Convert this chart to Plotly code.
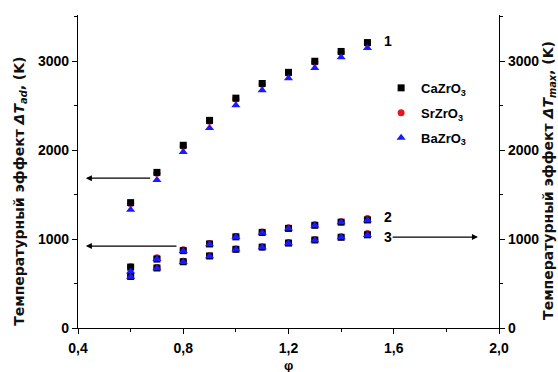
import plotly.graph_objects as go

phi = [0.6, 0.7, 0.8, 0.9, 1.0, 1.1, 1.2, 1.3, 1.4, 1.5]

# curve 1 (ΔT_ad)
ca_1 = [1410, 1750, 2055, 2335, 2585, 2750, 2875, 3000, 3110, 3210]
sr_1 = [1400, 1740, 2045, 2325, 2575, 2740, 2865, 2990, 3100, 3200]
ba_1 = [1330, 1665, 1980, 2250, 2505, 2675, 2810, 2925, 3045, 3150]
# curve 2
ca_2 = [685, 775, 870, 945, 1025, 1075, 1120, 1155, 1190, 1215]
sr_2 = [690, 790, 880, 950, 1030, 1080, 1128, 1160, 1195, 1232]
ba_2 = [635, 775, 865, 942, 1022, 1072, 1118, 1152, 1188, 1212]
# curve 3
ca_3 = [580, 675, 745, 810, 885, 910, 955, 990, 1020, 1048]
sr_3 = [585, 680, 750, 812, 888, 912, 962, 993, 1025, 1062]
ba_3 = [575, 672, 742, 808, 884, 908, 952, 988, 1020, 1046]

names = ["CaZrO<sub>3</sub>", "SrZrO<sub>3</sub>", "BaZrO<sub>3</sub>"]
colors = ["black", "#e8141e", "#1a1aff"]
symbols = ["square", "circle", "triangle-up"]
sizes = [7, 7, 8]
data = [(ca_1, ca_2, ca_3), (sr_1, sr_2, sr_3), (ba_1, ba_2, ba_3)]
draw_order = [1, 0, 2]  # Sr below Ca, Ba on top

x_ticks = [0.4, 0.8, 1.2, 1.6, 2.0]
x_ticktext = ["0,4", "0,8", "1,2", "1,6", "2,0"]
y_ticks = [0, 1000, 2000, 3000]

FAM = "Liberation Sans, Arial"
TFAM = "DejaVu Sans"

fig = go.Figure()
for i in draw_order:
    s1, s2, s3 = data[i]
    fig.add_trace(go.Scatter(
        x=phi * 3, y=s1 + s2 + s3, mode="markers", name=names[i],
        legendgroup="g%d" % i, legendrank=i + 1,
        marker=dict(color=colors[i], symbol=symbols[i], size=sizes[i], line=dict(width=0)),
    ))
fig.add_trace(go.Scatter(x=[None], y=[None], yaxis="y2", showlegend=False, hoverinfo="skip"))

# arrows
arrows = [
    (0.68, 1685, 0.43, 1685),
    (0.78, 921, 0.43, 921),
    (1.59, 1022, 1.92, 1022),
]
for x0, y0, x1, y1 in arrows:
    fig.add_annotation(x=x1, y=y1, ax=x0, ay=y0, xref="x", yref="y", axref="x", ayref="y",
                       showarrow=True, arrowhead=2, arrowsize=1, arrowwidth=1.2,
                       arrowcolor="black", text="")

labels = [("1", 1.555, 3230), ("2", 1.555, 1245), ("3", 1.555, 1020)]
for t, lx, ly in labels:
    fig.add_annotation(x=lx, y=ly, text="<b>%s</b>" % t, showarrow=False,
                       font=dict(family=FAM, size=14, color="black"), xanchor="left")

# axis titles (positioned relative to plot area edges)
fig.add_annotation(x=0, y=0.435, xref="paper", yref="paper", textangle=-90, showarrow=False,
                   xanchor="center", xshift=-58,
                   text="<b>Температурный эффект <i>ΔT</i><sub><i>ad</i></sub>, (K)</b>",
                   font=dict(family=TFAM, size=14, color="#111111"))
fig.add_annotation(x=1, y=0.47, xref="paper", yref="paper", textangle=-90, showarrow=False,
                   xanchor="center", xshift=50,
                   text="<b>Температурный эффект <i>ΔT</i><sub><i>max</i></sub>, (K)</b>",
                   font=dict(family=TFAM, size=14, color="#111111"))
fig.add_annotation(x=0.5, y=0, xref="paper", yref="paper", showarrow=False,
                   yanchor="middle", yshift=-37,
                   text="<b>φ</b>", font=dict(family=FAM, size=13, color="black"))

tickfont = dict(family=FAM, size=14, color="black", weight="bold")
common_y = dict(range=[0, 3520], tickvals=y_ticks, showline=True, linecolor="black", linewidth=1.3,
                ticks="outside", ticklen=5, tickcolor="black", showgrid=False, zeroline=False,
                tickfont=tickfont, automargin=False,
                minor=dict(tickvals=[500, 1500, 2500, 3500], ticks="outside", ticklen=3, tickcolor="black"))

fig.update_layout(
    width=558, height=372,
    margin=dict(l=78, r=59, t=15, b=44, autoexpand=False),
    plot_bgcolor="white", paper_bgcolor="white",
    font=dict(family=FAM, size=12, color="black"),
    showlegend=True,
    legend=dict(x=0.72, y=0.815, xanchor="left", yanchor="top", traceorder="grouped",
                font=dict(family=FAM, size=13, color="black", weight="bold"),
                bgcolor="rgba(0,0,0,0)", tracegroupgap=5, itemwidth=30),
    xaxis=dict(range=[0.4, 2.0], tickvals=x_ticks, ticktext=x_ticktext,
               showline=True, linecolor="black", linewidth=1.3, ticks="outside",
               ticklen=5, tickcolor="black", showgrid=False, zeroline=False,
               tickfont=tickfont, ticklabelstandoff=2, automargin=False,
               minor=dict(tickvals=[0.6, 1.0, 1.4, 1.8], ticks="outside", ticklen=3, tickcolor="black")),
    yaxis=dict(**common_y),
    yaxis2=dict(overlaying="y", side="right", **common_y),
)

fig.write_html("out.html")
